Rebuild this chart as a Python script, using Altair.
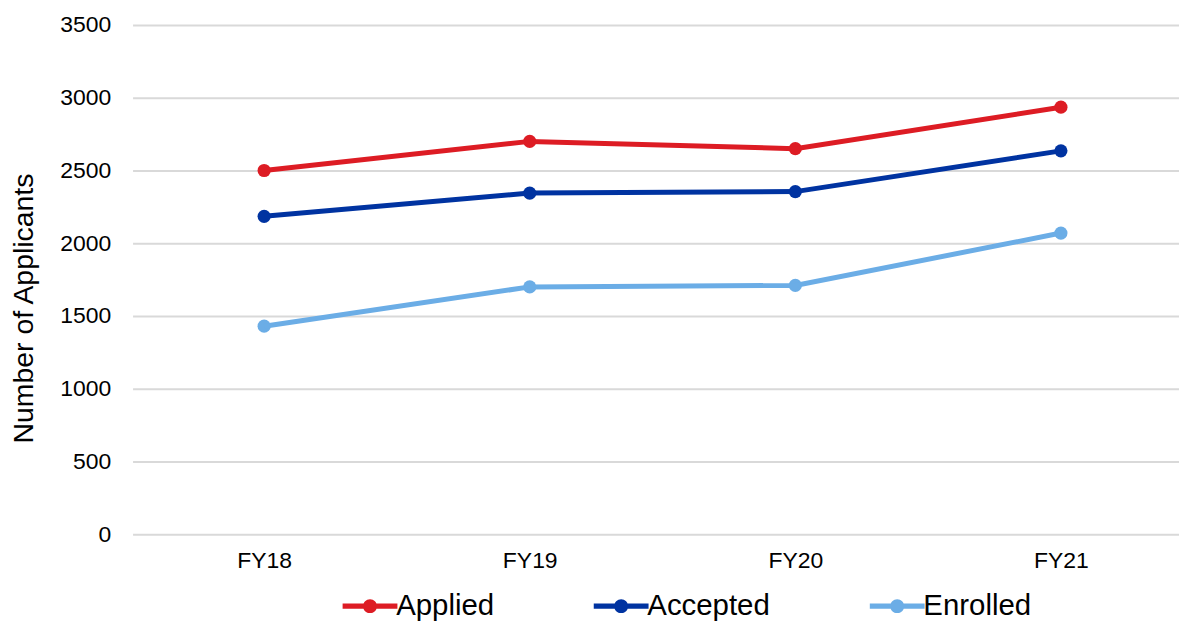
import altair as alt
import pandas as pd

years = ["FY18", "FY19", "FY20", "FY21"]
series = ["Applied", "Accepted", "Enrolled"]
applied = [2500, 2700, 2650, 2935]
accepted = [2185, 2345, 2355, 2635]
enrolled = [1430, 1700, 1710, 2070]
colors = ["#DD1C24", "#0033A1", "#6BADE6"]
y_ticks = [0, 500, 1000, 1500, 2000, 2500, 3000, 3500]

rows = []
for name, vals in zip(series, [applied, accepted, enrolled]):
    for yr, v in zip(years, vals):
        rows.append({"Year": yr, "Series": name, "Value": v})
df = pd.DataFrame(rows)

FONT = "Liberation Sans"

color = alt.Color(
    "Series:N",
    scale=alt.Scale(domain=series, range=colors),
    sort=series,
)

legend_path = (
    "M-1,-0.36 L6.857,-0.36 L6.857,0.36 L-1,0.36 Z "
    "M1.93,0 A1,1 0 1,1 3.93,0 A1,1 0 1,1 1.93,0 Z"
)

x = alt.X(
    "Year:N",
    sort=years,
    scale=alt.Scale(type="point", padding=0.47, align=0.527),
    axis=alt.Axis(
        title=None, labelAngle=0, domain=False, ticks=False, grid=False,
        labelFont=FONT, labelFontSize=23, labelColor="#000000", labelPadding=15,
    ),
)
y = alt.Y(
    "Value:Q",
    scale=alt.Scale(domain=[0, 3500], nice=False),
    axis=alt.Axis(
        title="Number of Applicants", values=y_ticks, format="d", domain=False, ticks=False,
        grid=True, gridColor="#D9D9D9", gridWidth=2,
        labelFont=FONT, labelFontSize=23, labelColor="#000000", labelPadding=22,
        titleFont=FONT, titleFontSize=28.5, titleFontWeight="normal", titleColor="#000000",
        titlePadding=21, titleY=284,
    ),
)

points = alt.Chart(df).mark_point(filled=True, size=175, opacity=1).encode(
    x=x, y=y,
    color=color.legend(
        orient="none", legendX=203, legendY=568, direction="horizontal",
        title=None, symbolType=legend_path, symbolSize=196, symbolStrokeWidth=0,
        symbolOpacity=1, labelOffset=32, columnPadding=92, padding=0,
        labelFont=FONT, labelFontSize=29.5, labelColor="#000000",
    ),
)
lines = alt.Chart(df).mark_line(strokeWidth=5).encode(
    x=x, y=y, color=color.legend(None),
)

chart = (
    alt.layer(points, lines)
    .properties(width=1050, height=511, padding={"left": 1, "top": 5, "right": 0, "bottom": 0})
    .configure(background="#FFFFFF")
    .configure_view(stroke=None)
)

chart.save("out.html", embed_options={"renderer": "svg", "actions": False})
